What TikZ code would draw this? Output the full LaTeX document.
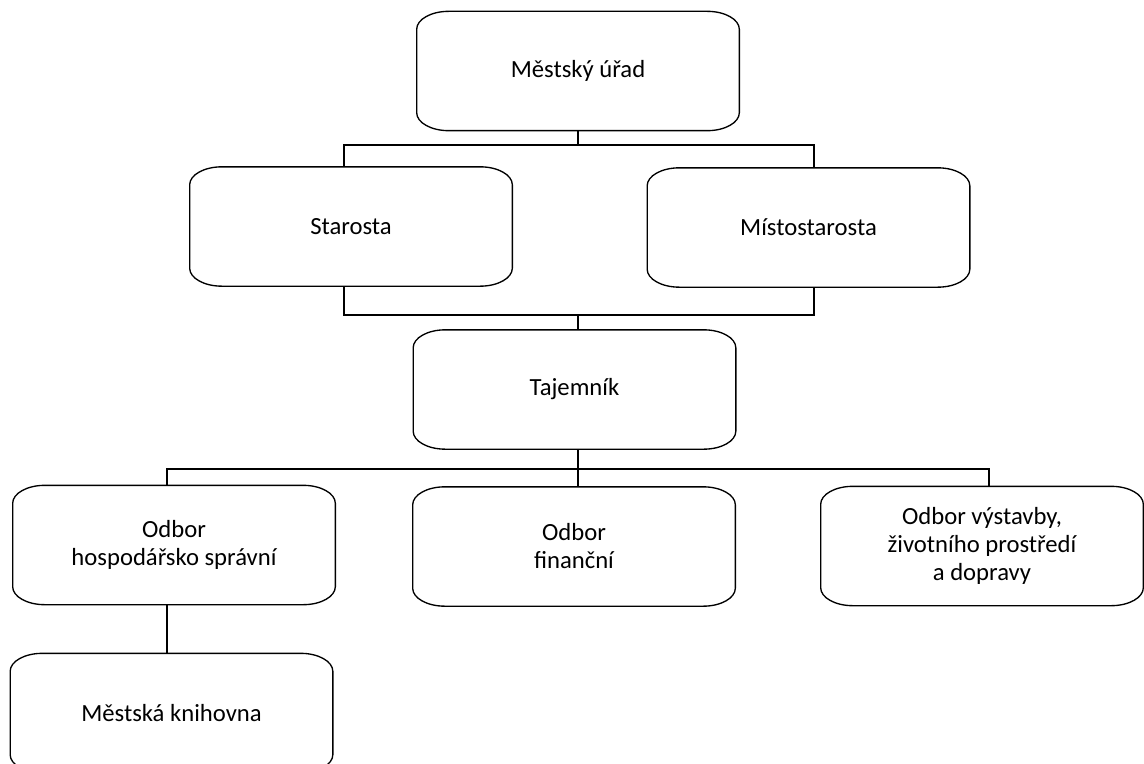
\documentclass[tikz,border=0pt]{standalone}
\usepackage{fontspec}
\setmainfont{Carlito}
\begin{document}
\begin{tikzpicture}[x=.75pt,y=-.75pt,line width=1pt,
  unit/.style={minimum width=242pt,minimum height=89.5pt,inner sep=0pt,outer sep=0pt,align=center,font=\fontsize{18.5}{21}\selectfont}]
\useasboundingbox (0,0) rectangle (1144,763);
% offices
\node[unit] (urad) at (578,71){Městský úřad};
\node[unit] (starosta) at (351,226.5){Starosta};\node[unit] (misto) at (808.5,227.5){Místostarosta};
\node[unit] (tajemnik) at (574.5,389.5){Tajemník};
\node[unit] (hosp) at (174,545){Odbor\\hospodářsko správní};\node[unit] (fin) at (574,546.5){Odbor\\finanční};
\node[unit] (vyst) at (982,546){Odbor výstavby,\\životního prostředí\\a dopravy};
\node[unit] (kniha) at (171.5,713){Městská knihovna};
% rounded outlines
\foreach \n in {urad,starosta,misto,tajemnik,hosp,fin,vyst,kniha}{\draw ([xshift=24pt]\n.north west)--([xshift=-24pt]\n.north east) arc[start angle=90,end angle=0,x radius=24pt,y radius=13.5pt]--([yshift=13.5pt]\n.south east) arc[start angle=0,end angle=-90,x radius=24pt,y radius=13.5pt]--([xshift=24pt]\n.south west) arc[start angle=270,end angle=180,x radius=24pt,y radius=13.5pt]--([yshift=-13.5pt]\n.north west) arc[start angle=180,end angle=90,x radius=24pt,y radius=13.5pt]--cycle;}
% connectors
\coordinate (j1l) at (344,145);\coordinate (j1r) at (814,145);
\draw (urad.south) |- (j1l)--(j1l |- starosta.north);\draw (urad.south) |- (j1r)--(j1r |- misto.north);
\coordinate (j2l) at (344,315);\coordinate (j2r) at (814,315);\coordinate (j2m) at (578,315);
\draw (j2l |- starosta.south)--(j2l)--(j2r)--(j2r |- misto.south);\draw (j2m)--(j2m |- tajemnik.north);
\coordinate (j3l) at (167,469);\coordinate (j3r) at (989,469);\coordinate (j3m) at (578,469);
\draw (j3l |- hosp.north)--(j3l)--(j3r)--(j3r |- vyst.north);\draw (j3m |- tajemnik.south)--(j3m |- fin.north);
\draw (j3l |- hosp.south)--(j3l |- kniha.north);
\end{tikzpicture}
\end{document}
